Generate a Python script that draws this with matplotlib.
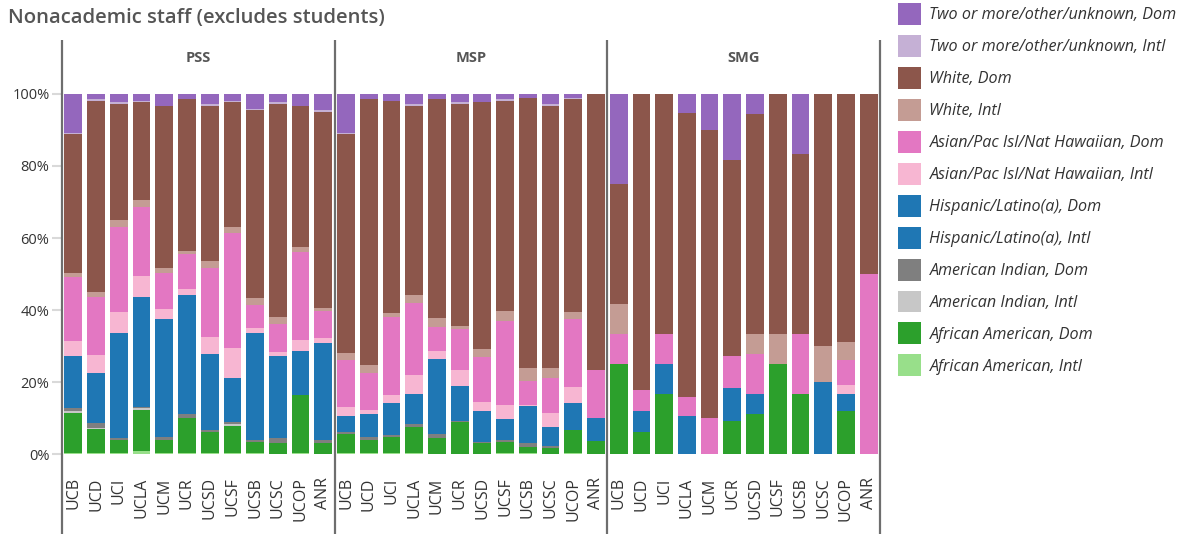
import numpy as np
import matplotlib
matplotlib.use("Agg")
import matplotlib.pyplot as plt
from matplotlib.patches import Patch

plt.rcParams['font.family'] = ['Open Sans', 'DejaVu Sans']

# groups and campuses
groups = ["PSS", "MSP", "SMG"]
campuses = ["UCB", "UCD", "UCI", "UCLA", "UCM", "UCR", "UCSD", "UCSF", "UCSB", "UCSC", "UCOP", "ANR"]

# shares (%) per series, PSS then MSP then SMG (12 campuses each)
af_am_intl = [0.4, 0.4, 0.3, 0.9, 0.2, 0.3, 0.3, 0.4, 0.3, 0.1, 0.4, 0,
              0.4, 0.2, 0.3, 0.3, 0, 0, 0, 0.3, 0.3, 0, 0.3, 0,
              0, 0, 0, 0, 0, 0, 0, 0, 0, 0, 0, 0]
af_am_dom = [11.1, 6.5, 3.6, 11.3, 3.7, 9.7, 5.8, 7.4, 3.0, 3.0, 16.0, 3.1,
             5.2, 3.7, 4.4, 7.2, 4.4, 8.9, 3.1, 3.0, 1.6, 1.7, 6.4, 3.6,
             25, 6.0, 16.7, 0, 0, 9.1, 11.1, 25, 16.7, 0, 11.9, 0]
am_ind_intl = [0.5, 0.2, 0, 0.6, 0, 0, 0, 0.5, 0, 0, 0, 0,
               0, 0, 0, 0, 0, 0, 0, 0, 0, 0, 0, 0,
               0, 0, 0, 0, 0, 0, 0, 0, 0, 0, 0, 0]
am_ind_dom = [0.8, 1.4, 0.5, 0.3, 0.8, 1.1, 0.6, 0.6, 0.6, 1.3, 0, 0.8,
              0.5, 0.8, 0.6, 0.8, 1.2, 0.3, 0.2, 0.6, 1.2, 0.5, 0, 0,
              0, 0, 0, 0, 0, 0, 0, 0, 0, 0, 0, 0]
hisp_intl = [0, 0, 0, 0, 0, 0, 0, 0, 0, 0, 0, 0,
             0, 0, 0, 0, 0, 0, 0, 0, 0, 0, 0, 0,
             0, 0, 0, 0, 0, 0, 0, 0, 0, 0, 0, 0]
hisp_dom = [14.4, 14.1, 29.2, 30.5, 32.8, 33.1, 21.1, 12.2, 29.7, 22.8, 12.2, 26.9,
            4.5, 6.4, 8.9, 8.4, 20.8, 9.7, 8.6, 5.8, 10.2, 5.3, 7.5, 6.4,
            0, 5.9, 8.3, 10.5, 0, 9.1, 5.6, 0, 0, 20, 4.8, 0]
asian_intl = [4.2, 5.0, 5.8, 5.8, 2.8, 1.6, 4.7, 8.3, 1.4, 1.1, 3.1, 1.4,
              2.5, 1.1, 2.2, 5.2, 2.2, 4.4, 2.5, 3.9, 0.3, 3.9, 4.4, 0,
              0, 0, 0, 0, 0, 0, 0, 0, 0, 0, 2.4, 0]
asian_dom = [17.8, 16.1, 23.7, 19.2, 10.0, 9.8, 19.3, 32.0, 6.4, 7.9, 24.4, 7.5,
             13.1, 10.3, 21.7, 20.0, 6.7, 11.4, 12.5, 23.3, 6.7, 9.7, 18.9, 13.3,
             8.3, 5.9, 8.3, 5.3, 10, 9.1, 11.1, 0, 16.6, 0, 7.1, 50]
white_intl = [1.1, 1.4, 1.9, 2.0, 1.4, 0.8, 1.8, 1.7, 1.9, 1.9, 1.4, 0.9,
              1.9, 2.2, 1.1, 2.3, 2.5, 0.9, 2.3, 2.8, 3.6, 2.8, 1.9, 0,
              8.3, 0, 0, 0, 0, 0, 5.6, 8.3, 0, 10, 4.8, 0]
white_dom = [38.7, 53.1, 32.2, 27.2, 45.0, 42.2, 43.1, 34.7, 52.3, 59.1, 39.2, 54.4,
             60.9, 73.9, 58.9, 52.5, 60.8, 61.6, 68.6, 58.4, 75.0, 72.8, 59.2, 76.7,
             33.4, 82.2, 66.7, 78.9, 80, 54.5, 61.1, 66.7, 50, 70, 69.0, 50]
two_intl = [0.3, 0.5, 0.6, 0.3, 0, 0, 0.5, 0.3, 0.2, 0.6, 0, 0.6,
            0.3, 0, 0, 0.5, 0, 0.6, 0, 0.5, 0, 0.5, 0.3, 0,
            0, 0, 0, 0, 0, 0, 0, 0, 0, 0, 0, 0]
two_dom = [10.7, 1.4, 2.2, 1.9, 3.3, 1.4, 2.8, 1.9, 4.2, 2.2, 3.3, 4.4,
           10.7, 1.4, 1.9, 2.8, 1.4, 2.2, 2.2, 1.4, 1.1, 2.8, 1.1, 0,
           25, 0, 0, 5.3, 10, 18.2, 5.5, 0, 16.7, 0, 0, 0]

# bottom to top
series = [
    ("African American, Intl", af_am_intl, "#98df8a"),
    ("African American, Dom", af_am_dom, "#2ca02c"),
    ("American Indian, Intl", am_ind_intl, "#c7c7c7"),
    ("American Indian, Dom", am_ind_dom, "#7f7f7f"),
    ("Hispanic/Latino(a), Intl", hisp_intl, "#1f77b4"),
    ("Hispanic/Latino(a), Dom", hisp_dom, "#1f77b4"),
    ("Asian/Pac Isl/Nat Hawaiian, Intl", asian_intl, "#f7b6d2"),
    ("Asian/Pac Isl/Nat Hawaiian, Dom", asian_dom, "#e377c2"),
    ("White, Intl", white_intl, "#c49c94"),
    ("White, Dom", white_dom, "#8c564b"),
    ("Two or more/other/unknown, Intl", two_intl, "#c5b0d5"),
    ("Two or more/other/unknown, Dom", two_dom, "#9467bd"),
]

vals = np.array([s[1] for s in series], dtype=float)
vals = vals / vals.sum(axis=0) * 100  # percent of total per bar

W, H = 1185, 534
fig = plt.figure(figsize=(W / 100, H / 100), dpi=100)
ax = fig.add_axes([62 / W, 1 - 462 / H, (880 - 62) / W, (462 - 40) / H])

n = len(groups) * len(campuses)
x = np.arange(n)
bottom = np.zeros(n)
for (name, _, color), v in zip(series, vals):
    ax.bar(x, v, bottom=bottom, width=0.78, color=color, linewidth=0)
    bottom += v

ymin = -8 / 3.6
ax.set_xlim(-0.5, n - 0.5)
ax.set_ylim(ymin, ymin + 422 / 3.6)
for s in ax.spines.values():
    s.set_visible(False)

ax.set_xticks(x)
ax.set_xticklabels(campuses * len(groups), rotation=90, va='top', ha='center',
                   fontsize=11.5, color='#333333')
ax.tick_params(axis='x', length=0, pad=11)
ax.set_yticks([0, 20, 40, 60, 80, 100])
ax.set_yticklabels(["0%", "20%", "40%", "60%", "80%", "100%"], fontsize=10.5, color='#333333')
ax.tick_params(axis='y', length=7, width=1.5, color='#d9d9d9', pad=2)

# panel separators
yb = ymin - (534 - 462) / 3.6
for xb in [-0.5, 11.5, 23.5, 35.5]:
    ax.plot([xb, xb], [yb, ax.get_ylim()[1]], color='#6e6e6e', lw=1.6,
            clip_on=False, solid_capstyle='butt')

for i, g in enumerate(groups):
    ax.text(i * 12 + 5.5, 110, g, ha='center', va='center', fontsize=10.5,
            fontweight='bold', color='#555555')

fig.text(8 / W, 1 - 18 / H, "Nonacademic staff (excludes students)", ha='left', va='center',
         fontsize=14.6, fontweight='semibold', color='#555555')

handles = [Patch(facecolor=c, edgecolor='none', label=name) for name, _, c in series[::-1]]
fig.legend(handles=handles, loc='upper left', bbox_to_anchor=(898 / W, 1 - 3 / H),
           frameon=False, borderaxespad=0, borderpad=0, handlelength=1.45, handleheight=1.72,
           handletextpad=0.5, labelspacing=0.62,
           prop={'style': 'italic', 'size': 11.6}, labelcolor='#333333')

fig.savefig("out.png", dpi=100)
